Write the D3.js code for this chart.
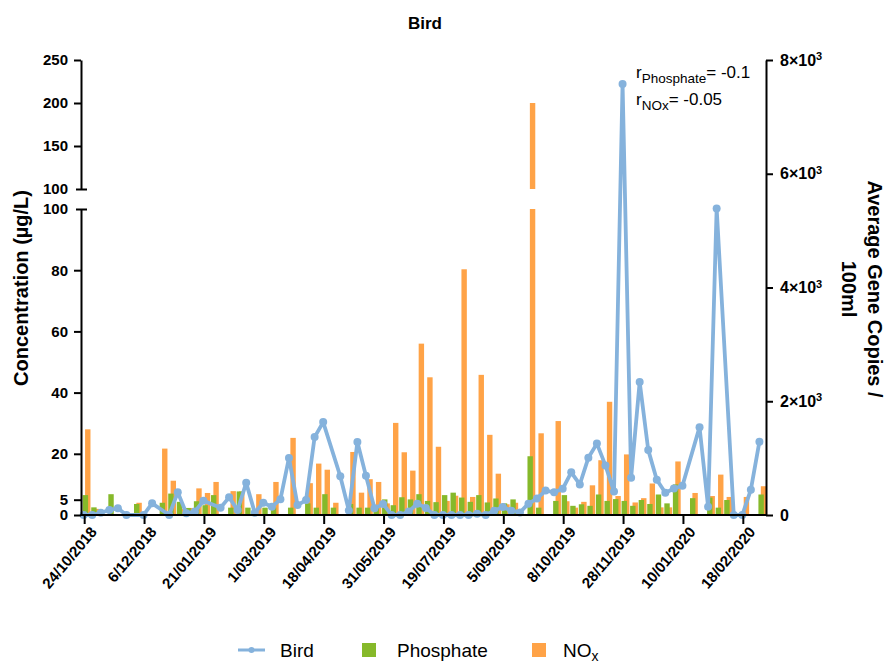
<!DOCTYPE html>
<html>
<head>
<meta charset="utf-8">
<script src="https://cdn.jsdelivr.net/npm/d3@7"></script>
<style>
  body { margin: 0; background: #fff; }
  text { font-family: "Liberation Sans", Arial, sans-serif; }
</style>
</head>
<body>
<svg id="chart" width="887" height="663"></svg>
<script>
// sample dates shown on the x axis (every 7th sample)
var tickLabels = ["24/10/2018", "6/12/2018", "21/01/2019", "1/03/2019", "18/04/2019", "31/05/2019",
                  "19/07/2019", "5/09/2019", "8/10/2019", "28/11/2019", "10/01/2020", "18/02/2020"];

// phosphate, µg/L (one value per sample)
var phosphate = [6.5, 2.5, 0, 6.8, 0, 0, 3.6, 0, 0, 4, 7, 4.3, 2.3, 4.5, 3.2, 6.5, 0, 2.4, 7.7, 2.4,
                 0, 2.4, 2.4, 0, 2.4, 0, 3.8, 2.4, 6.8, 2.4, 0, 3.6, 2.4, 2.4, 3.2, 5.1, 3.2, 5.8, 5.1, 6.8,
                 4.6, 4.2, 6.5, 7.3, 5.7, 4.3, 6.5, 4.1, 5.4, 3.8, 5.1, 0, 19.2, 2.4, 0, 4.6, 6.5, 3, 3.5, 3,
                 6.7, 4.6, 5.2, 4.6, 3, 4.9, 3.6, 6.7, 3.8, 10, 0, 5.5, 0, 5.7, 2.4, 4.9, 0, 0, 0, 6.7];

// NOx, µg/L
var nox = [28, 2, 0, 0, 0, 0, 4, 0, 0, 21.7, 11.2, 2, 2.3, 8.7, 7.2, 10.8, 0, 7.8, 7.7, 0,
           6.8, 0, 10.8, 0, 25.2, 0, 10.4, 16.8, 14.8, 4, 0, 20.6, 7.3, 11.7, 10.8, 3.8, 30.1, 20.5, 14.5, 56,
           45, 22.3, 4.6, 6.3, 80.3, 5.9, 45.8, 26.2, 13.5, 3.5, 4, 0, 200, 26.7, 0, 30.7, 4.5, 2.4, 4.3, 9.7,
           17.9, 37, 6.2, 19.8, 4.1, 5.5, 10.3, 2.5, 2.5, 17.5, 0, 7.2, 0, 6.2, 13.2, 5.9, 0, 5.9, 0, 9.4];

// bird marker, average gene copies / 100ml (null = no sample)
var bird = [0, 0, 40, 88, 117, 0, null, 0, 205, null, 0, 400, 30, 60, 250, null, 128, 310, 88, 565,
            40, 215, 145, 275, 1003, 175, 262, 1370, 1633, null, 682, 80, 1283, 688, 117, 195, 0, 0, 60, 200,
            125, 0, 0, 0, 0, 0, 20, 0, 75, 140, 75, 45, 200, 290, 430, 400, 460, 750, 537, 1005,
            1255, 872, 412, 7580, 655, 2340, 1145, 620, 390, 467, 515, null, 1545, 145, 5390, null, 0, 0, 445, 1290];

var lowTicks = [0, 5, 20, 40, 60, 80, 100];
var highTicks = [100, 150, 200, 250];
var rightTicks = [0, 2000, 4000, 6000, 8000];

var colPhos = "#86b92a", colNox = "#ffa347", colBird = "#85b2dc";

var svg = d3.select("#chart");

var x = d3.scaleBand().domain(d3.range(bird.length)).range([80.4, 764.7]);
var cx = function(i){ return x(i) + x.bandwidth() / 2; };
var yLow = d3.scaleLinear().domain([0, 100]).range([515, 209]);
var yHigh = d3.scaleLinear().domain([100, 250]).range([189, 60]);
var yR = d3.scaleLinear().domain([0, 8000]).range([515, 60]);

// split a bar over the broken left axis
function segs(v){
    if(!v) return [];
    if(v <= 100) return [[yLow(0), yLow(v)]];
    return [[yLow(0), yLow(100)], [yHigh(100), yHigh(v)]];
}

function barRects(values, key){
    var out = [];
    values.forEach(function(v, i){
        segs(v).forEach(function(s){ out.push({i: i, y0: s[0], y1: s[1], key: key}); });
    });
    return out;
}

var barW = 5.4;
svg.append("g").selectAll("rect")
    .data(barRects(nox, "nox").concat(barRects(phosphate, "phos")))
    .enter().append("rect")
    .attr("x", function(d){ return d.key === "nox" ? cx(d.i) + 0.4 : cx(d.i) - 2; })
    .attr("y", function(d){ return d.y1; })
    .attr("width", barW)
    .attr("height", function(d){ return d.y0 - d.y1; })
    .attr("fill", function(d){ return d.key === "nox" ? colNox : colPhos; });

// bird line, joined across missing samples
var birdPts = bird.map(function(v, i){ return {i: i, v: v}; })
                  .filter(function(d){ return d.v !== null; });
var line = d3.line()
    .x(function(d){ return cx(d.i) - 1; })
    .y(function(d){ return yR(d.v); });

svg.append("path")
    .datum(birdPts)
    .attr("d", line)
    .attr("fill", "none")
    .attr("stroke", colBird)
    .attr("stroke-width", 3.8)
    .attr("stroke-linejoin", "round");

svg.append("g").selectAll("circle")
    .data(birdPts)
    .enter().append("circle")
    .attr("cx", function(d){ return cx(d.i) - 1; })
    .attr("cy", function(d){ return yR(d.v); })
    .attr("r", 4)
    .attr("fill", colBird);

// axes
function styleAxis(g){
    g.select(".domain").attr("stroke", "#000").attr("stroke-width", 2);
    g.selectAll(".tick line").attr("stroke", "#000").attr("stroke-width", 2);
    g.selectAll(".tick text").attr("fill", "#000")
        .style("font-size", "15px").style("font-weight", "bold")
        .style("font-family", "'Liberation Sans', Arial, sans-serif");
}

var gLow = svg.append("g").attr("transform", "translate(81,0)")
    .call(d3.axisLeft(yLow).tickValues(lowTicks).tickSize(7).tickSizeOuter(0).tickPadding(6))
    .call(styleAxis);
var gHigh = svg.append("g").attr("transform", "translate(81,0)")
    .call(d3.axisLeft(yHigh).tickValues(highTicks).tickSize(7).tickSizeOuter(0).tickPadding(6))
    .call(styleAxis);
// break marks at 100 reach across the axis
[gLow, gHigh].forEach(function(g){
    g.selectAll(".tick").filter(function(d){ return d === 100; })
        .select("line").attr("x1", 6).attr("x2", -5);
});

var gRight = svg.append("g").attr("transform", "translate(766,0)")
    .call(d3.axisRight(yR).tickValues(rightTicks).tickSize(7).tickSizeOuter(0).tickPadding(7))
    .call(styleAxis);
gRight.selectAll(".tick text").style("font-size", "16px").each(function(d){
    var t = d3.select(this);
    t.text(null);
    if(d === 0){ t.text("0"); return; }
    t.append("tspan").text((d / 1000) + "×10");
    t.append("tspan").attr("dy", "-0.5em").style("font-size", "11px").text("3");
});

var gX = svg.append("g").attr("transform", "translate(0,515)")
    .call(d3.axisBottom(x).tickValues(d3.range(0, bird.length, 7))
        .tickFormat(function(d){ return tickLabels[d / 7]; })
        .tickSize(9).tickSizeOuter(0))
    .call(styleAxis);
gX.select(".domain").attr("d", "M80.4,0H766");
gX.selectAll(".tick text")
    .style("font-size", "15px")
    .attr("x", -5).attr("y", 21).attr("dy", 0)
    .attr("text-anchor", "end")
    .attr("transform", "rotate(-50)");

// titles
svg.append("text").attr("x", 425).attr("y", 29).attr("text-anchor", "middle")
    .style("font-size", "17px").style("font-weight", "bold").text("Bird");

svg.append("text").attr("transform", "translate(28,288) rotate(-90)")
    .attr("text-anchor", "middle")
    .style("font-size", "20px").style("font-weight", "bold")
    .text("Concentration (µg/L)");

var rt = svg.append("text").attr("transform", "translate(868,289) rotate(90)")
    .attr("text-anchor", "middle")
    .style("font-size", "20px").style("font-weight", "bold");
rt.append("tspan").attr("x", 0).text("Average Gene Copies /");
rt.append("tspan").attr("x", 0).attr("dy", "1.3em").text("100ml");

// correlation note
function rLabel(y, sub, val){
    var t = svg.append("text").attr("x", 636).attr("y", y).style("font-size", "17px");
    t.append("tspan").text("r");
    t.append("tspan").attr("dy", 5).style("font-size", "13.5px").text(sub);
    t.append("tspan").attr("dy", -5).text("= " + val);
}
rLabel(78, "Phosphate", "-0.1");
rLabel(105, "NOx", "-0.05");

// legend
var lg = svg.append("g").attr("transform", "translate(0,650)");
lg.append("line").attr("x1", 238).attr("x2", 265).attr("y1", 0).attr("y2", 0)
    .attr("stroke", colBird).attr("stroke-width", 3);
lg.append("circle").attr("cx", 251.5).attr("cy", 0).attr("r", 3).attr("fill", colBird);
lg.append("text").attr("x", 280).attr("y", 7).style("font-size", "19px").text("Bird");
lg.append("rect").attr("x", 362).attr("y", -7).attr("width", 14).attr("height", 14).attr("fill", colPhos);
lg.append("text").attr("x", 397).attr("y", 7).style("font-size", "19px").text("Phosphate");
lg.append("rect").attr("x", 532).attr("y", -7).attr("width", 14).attr("height", 14).attr("fill", colNox);
var nt = lg.append("text").attr("x", 563).attr("y", 7).style("font-size", "19px");
nt.append("tspan").text("NO");
nt.append("tspan").attr("dy", 4).style("font-size", "14px").text("x");
</script>
</body>
</html>
